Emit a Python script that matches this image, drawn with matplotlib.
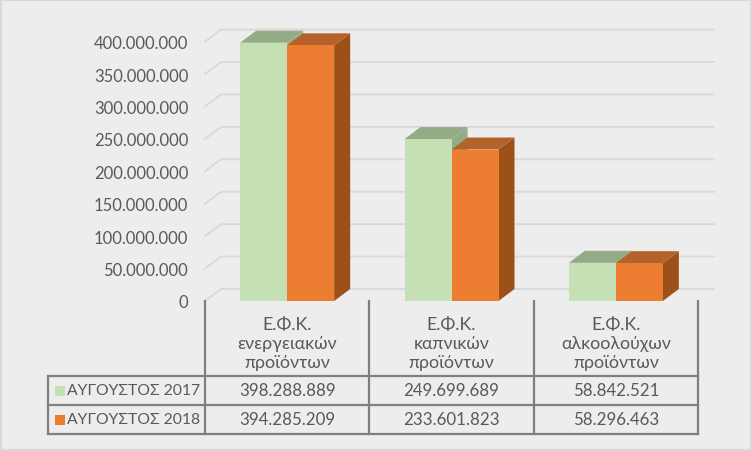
import matplotlib
matplotlib.use('Agg')
import matplotlib.pyplot as plt
from matplotlib.patches import Polygon, Rectangle
from matplotlib.transforms import blended_transform_factory

categories = ['Ε.Φ.Κ.\nενεργειακών\nπροϊόντων', 'Ε.Φ.Κ.\nκαπνικών\nπροϊόντων', 'Ε.Φ.Κ.\nαλκοολούχων\nπροϊόντων']
series_names = ['ΑΥΓΟΥΣΤΟΣ 2017', 'ΑΥΓΟΥΣΤΟΣ 2018']
values_2017 = [398288889, 249699689, 58842521]
values_2018 = [394285209, 233601823, 58296463]
y_ticks = [0, 50000000, 100000000, 150000000, 200000000, 250000000, 300000000, 350000000, 400000000]

plt.rcParams['font.family'] = ['Lato', 'Open Sans', 'DejaVu Sans']

W, H = 752, 452
BG = '#EDEDED'
TEXT = '#595959'
LINE = '#7F7F7F'
GRID = '#D9D9D9'

# colours: front, top, side
GREEN = ('#C5E0B4', '#93AB87', '#93AB87')
ORANGE = ('#ED7D31', '#B5612A', '#9C5119')

fig = plt.figure(figsize=(W / 100, H / 100), dpi=100, facecolor=BG)
fig.patches.append(Rectangle((0, 0), 1, 1, transform=fig.transFigure, fill=False,
                             edgecolor=GRID, linewidth=3))

# axes = front plane of the 3d plot
left, right, bottom, top = 205, 698, 302, 42.6
ax = fig.add_axes([left / W, 1 - bottom / H, (right - left) / W, (bottom - top) / H])
ax.set_xlim(0, 3)
ax.set_ylim(0, 400000000)
ax.patch.set_visible(False)
for s in ax.spines.values():
    s.set_visible(False)

px_x = 3 / (right - left)
px_y = 400000000 / (bottom - top)
depth_x = 16 * px_x
depth_y = 12 * px_y
bar_w = 47 * px_x
back_end = 3 + 16 * px_x

ax.set_xticks([])
ax.set_yticks(y_ticks)
ax.set_yticklabels([f'{v:,}'.replace(',', '.') for v in y_ticks], color=TEXT, fontsize=12)
ax.tick_params(axis='y', length=0, pad=12)

# gridlines on the back and side walls
for v in y_ticks:
    ax.plot([0, depth_x, back_end], [v, v + depth_y, v + depth_y], color=GRID, lw=1.3,
            clip_on=False, zorder=1, solid_joinstyle='miter')


def draw_bar(x0, val, colors):
    x1 = x0 + bar_w
    ax.add_patch(Polygon([(x1, 0), (x1 + depth_x, depth_y), (x1 + depth_x, val + depth_y), (x1, val)],
                         facecolor=colors[2], edgecolor='none', clip_on=False, zorder=2))
    ax.add_patch(Polygon([(x0, val), (x0 + depth_x, val + depth_y), (x1 + depth_x, val + depth_y), (x1, val)],
                         facecolor=colors[1], edgecolor='none', clip_on=False, zorder=2))
    ax.bar(x0, val, width=bar_w, align='edge', color=colors[0], clip_on=False, zorder=3)


for i in range(len(categories)):
    draw_bar(i + 0.5 - bar_w, values_2017[i], GREEN)
for i in range(len(categories)):
    draw_bar(i + 0.5, values_2018[i], ORANGE)

# data table below the axis, x follows the categories, y in pixels
trans = blended_transform_factory(ax.transData, fig.transFigure)


def row_y(py):
    return 1 - py / H


table_left = (48 - left) * px_x
rows = [377, 406, 435]
for py in rows:
    ax.plot([table_left, 3], [row_y(py)] * 2, transform=trans, color=LINE, lw=1.6, clip_on=False, zorder=4)
for i in range(4):
    ax.plot([i, i], [row_y(302), row_y(435)], transform=trans, color=LINE, lw=1.6, clip_on=False, zorder=4)
ax.plot([table_left] * 2, [row_y(377), row_y(435)], transform=trans, color=LINE, lw=1.6, clip_on=False, zorder=4)

for i, cat in enumerate(categories):
    ax.text(i + 0.5, row_y(344), cat, transform=trans, ha='center', va='center', color=TEXT,
            fontsize=12.8, linespacing=1.2)
    ax.text(i + 0.5, row_y(391.5), f'{values_2017[i]:,}'.replace(',', '.'), transform=trans,
            ha='center', va='center', color=TEXT, fontsize=12.2)
    ax.text(i + 0.5, row_y(420.5), f'{values_2018[i]:,}'.replace(',', '.'), transform=trans,
            ha='center', va='center', color=TEXT, fontsize=12.2)

for name, py, col in zip(series_names, [391.5, 420.5], [GREEN[0], ORANGE[0]]):
    fig.patches.append(Rectangle((55 / W, 1 - (py + 5) / H), 10 / W, 10 / H, transform=fig.transFigure,
                                 facecolor=col, edgecolor='none'))
    fig.text(67 / W, row_y(py), name, ha='left', va='center', color=TEXT, fontsize=11.3)

fig.savefig('out.png', dpi=100, facecolor=BG)
